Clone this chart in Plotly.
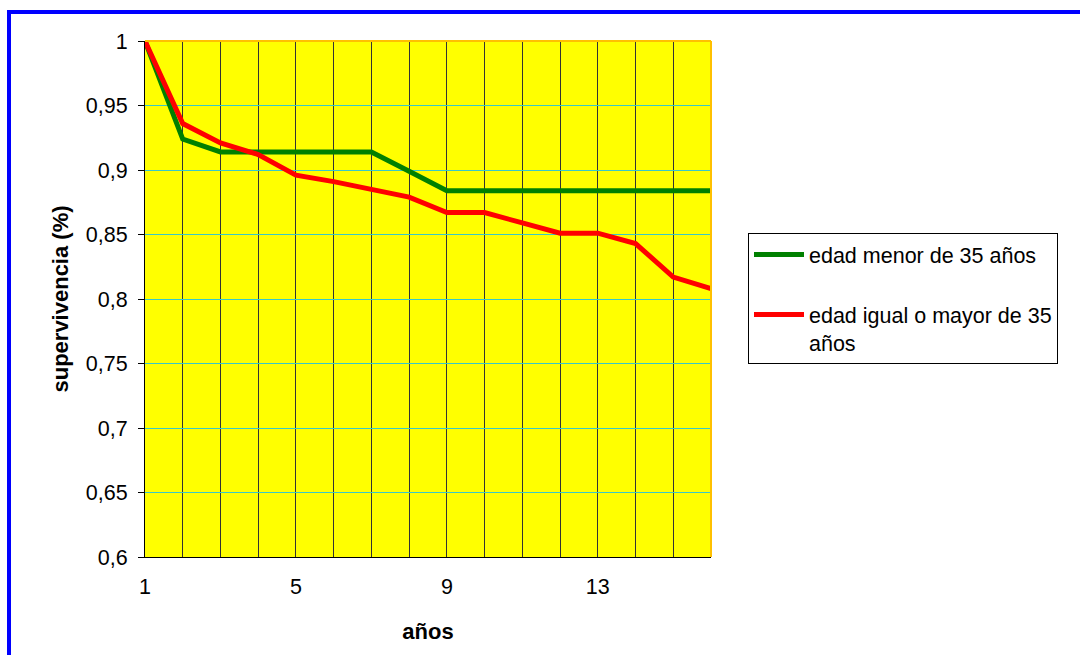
import plotly.graph_objects as go

years = list(range(1, 17))
menor_35 = [1.0, 0.924, 0.914, 0.914, 0.914, 0.914, 0.914, 0.899, 0.884, 0.884, 0.884, 0.884, 0.884, 0.884, 0.884, 0.884]
mayor_35 = [1.0, 0.936, 0.921, 0.912, 0.896, 0.891, 0.885, 0.879, 0.867, 0.867, 0.859, 0.851, 0.851, 0.843, 0.817, 0.808]
x_ticks = [1, 5, 9, 13]
y_ticks = [0.6, 0.65, 0.7, 0.75, 0.8, 0.85, 0.9, 0.95, 1.0]
y_labels = ["0,6", "0,65", "0,7", "0,75", "0,8", "0,85", "0,9", "0,95", "1"]

FONT = "Liberation Sans, Arial, sans-serif"
W, H = 1080, 655
L, R, T, B = 145, 711, 41, 557
FS = 21.5
FT = 22

fig = go.Figure()
fig.add_trace(go.Scatter(x=years, y=menor_35, mode="lines", name="edad menor de 35 años",
                         line=dict(color="#008000", width=5), legendgroup="a"))
fig.add_trace(go.Scatter(x=years, y=mayor_35, mode="lines", name="edad igual o mayor de 35<br>años",
                         line=dict(color="#FF0000", width=5), legendgroup="b"))

def px_x(p):
    return (p - L) / (R - L)

def px_y(p):
    return (B - p) / (B - T)

fig.update_layout(
    width=W, height=H,
    margin=dict(l=L, r=W - R, t=T, b=H - B, autoexpand=False),
    paper_bgcolor="white", plot_bgcolor="#FFFF00",
    font=dict(family=FONT, size=FS, color="black"),
    showlegend=True,
    legend=dict(x=px_x(748), y=px_y(233), xanchor="left", yanchor="top",
                bordercolor="black", borderwidth=1, bgcolor="white",
                font=dict(family=FONT, size=FS, color="black"),
                itemwidth=50,
                tracegroupgap=29, traceorder="grouped", valign="top"),
    xaxis=dict(range=[1, 16], tickvals=x_ticks, ticktext=[str(v) for v in x_ticks],
               showgrid=True, gridcolor="#333333", gridwidth=1,
               minor=dict(dtick=1, tick0=1, showgrid=True, gridcolor="#333333", gridwidth=1),
               showline=True, linecolor="black", linewidth=1, ticks="", zeroline=False,
               ticklabelstandoff=10,
               title=dict(text="<b>años</b>", font=dict(family=FONT, size=FT), standoff=25),
               tickfont=dict(family=FONT, size=FS)),
    yaxis=dict(range=[0.6, 1.0], tickvals=y_ticks, ticktext=y_labels,
               showgrid=True, gridcolor="#38C8C8", gridwidth=1,
               showline=True, linecolor="black", linewidth=1, ticks="outside", ticklen=6,
               tickcolor="black", zeroline=False, ticklabelstandoff=6,
               title=dict(text="<b>supervivencia (%)</b>", font=dict(family=FONT, size=FT), standoff=11),
               tickfont=dict(family=FONT, size=FS)),
)

# plot-area border (top/right) and outer blue frame
fig.add_shape(type="line", xref="paper", yref="paper", x0=0, x1=1, y0=1, y1=1,
              line=dict(color="#FFC000", width=2), layer="above")
fig.add_shape(type="line", xref="paper", yref="paper", x0=1, x1=1, y0=0, y1=1,
              line=dict(color="#FFC000", width=2), layer="above")
fig.add_shape(type="rect", xref="paper", yref="paper",
              x0=px_x(9), x1=px_x(1100), y0=px_y(12), y1=px_y(680),
              line=dict(color="#0000FF", width=4), fillcolor="rgba(0,0,0,0)", layer="above")

fig.write_html("out.html")
